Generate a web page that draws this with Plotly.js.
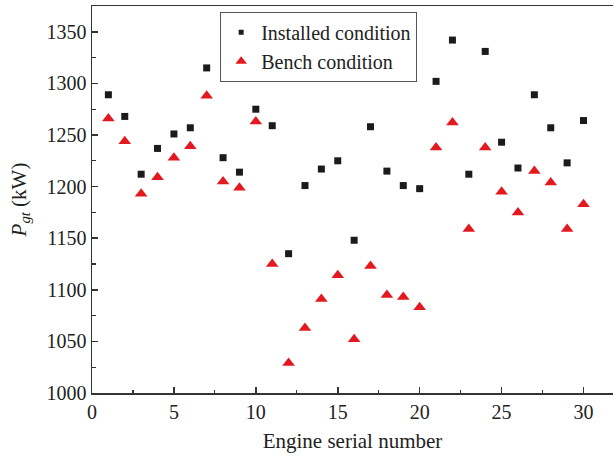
<!DOCTYPE html>
<html>
<head>
<meta charset="utf-8">
<script src="https://cdn.plot.ly/plotly-3.0.1.min.js"></script>
<style>html,body{margin:0;padding:0;background:#fff;}#chart{width:613px;height:460px;}</style>
</head>
<body>
<div id="chart"></div>
<script>
const engines = [1,2,3,4,5,6,7,8,9,10,11,12,13,14,15,16,17,18,19,20,21,22,23,24,25,26,27,28,29,30];
const installed = [1289,1268,1212,1237,1251,1257,1315,1228,1214,1275,1259,1135,1201,1217,1225,1148,1258,1215,1201,1198,1302,1342,1212,1331,1243,1218,1289,1257,1223,1264];
const bench = [1266,1244,1193,1209,1228,1239,1288,1205,1199,1263,1125,1029,1063,1091,1114,1052,1123,1095,1093,1083,1238,1262,1159,1238,1195,1175,1215,1204,1159,1183];
const seriesNames = ['Installed condition','Bench condition'];

const FONT = 'Liberation Serif, Times New Roman, serif';
const sqColor = '#1b1b1b', triColor = '#e3191f';

const traces = [
  {x: engines, y: installed, type:'scatter', mode:'markers', showlegend:false,
   marker:{symbol:'square', size:7, color:sqColor}},
  {x: engines, y: bench, type:'scatter', mode:'markers', showlegend:false,
   marker:{symbol:'triangle-up', size:11, color:triColor}},
  {x:[null], y:[null], type:'scatter', mode:'markers', name: seriesNames[0],
   marker:{symbol:'square', size:5, color:sqColor}},
  {x:[null], y:[null], type:'scatter', mode:'markers', name: seriesNames[1],
   marker:{symbol:'triangle-up', size:10, color:triColor}}
];

const axisCommon = {
  showline:true, linecolor:'#333', linewidth:1.5,
  ticks:'inside', ticklen:6, tickwidth:1.5, tickcolor:'#333',
  showgrid:false, zeroline:false,
  tickfont:{family:FONT, size:20, color:'#222'}
};

const layout = {
  width:613, height:460,
  margin:{l:91.5, r:0, t:6, b:66.7},
  paper_bgcolor:'#fff', plot_bgcolor:'#fff',
  font:{family:FONT, color:'#222'},
  xaxis: Object.assign({}, axisCommon, {
    range:[0, 31.8], dtick:5, tick0:0, mirror:true,
    minor:{dtick:2.5, ticks:'inside', ticklen:3, tickwidth:1.2, tickcolor:'#333'},
    title:{text:'Engine serial number', font:{family:FONT, size:21, color:'#222'}, standoff:12}
  }),
  yaxis: Object.assign({}, axisCommon, {
    range:[1000, 1375], dtick:50, tick0:1000,
    minor:{dtick:25, ticks:'inside', ticklen:4, tickwidth:1.2, tickcolor:'#333'},
    title:{text:'<i>P</i><sub><i>gt</i></sub> (kW)', font:{family:FONT, size:21, color:'#222'}, standoff:14}
  }),
  legend:{
    x:0.246, y:0.985, xanchor:'left', yanchor:'top',
    bgcolor:'#fff', bordercolor:'#555', borderwidth:1,
    tracegroupgap:0,
    font:{family:FONT, size:20, color:'#222'}
  }
};

Plotly.newPlot('chart', traces, layout, {staticPlot:true, displayModeBar:false});
</script>
</body>
</html>
